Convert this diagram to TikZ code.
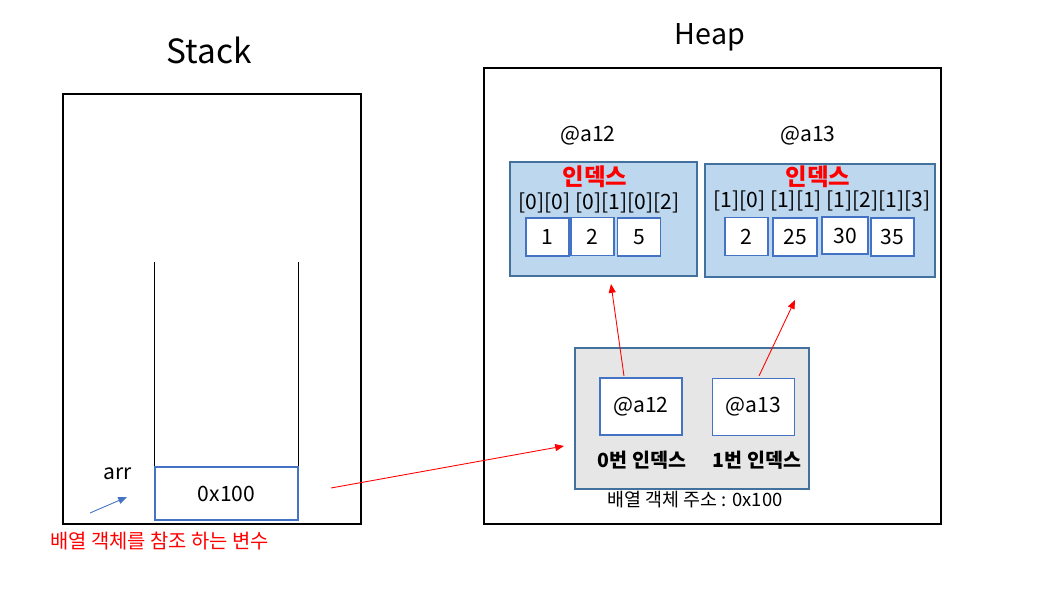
\documentclass[tikz,border=0pt]{standalone}
\usepackage{fontspec}
\setmainfont{Noto Sans CJK KR}
\usetikzlibrary{arrows.meta,positioning}
\definecolor{ptrred}{HTML}{FF0000}
\definecolor{idxblue}{HTML}{BDD7EE}
\definecolor{edgeblue}{HTML}{41719C}
\definecolor{cellblue}{HTML}{4472C4}
\definecolor{objgray}{HTML}{E7E6E6}
\tikzset{
  frame/.style={draw=black,line width=.7pt,inner sep=0pt},
  arraybox/.style={draw=edgeblue,fill=idxblue,line width=.7pt,inner sep=0pt},
  objbox/.style={draw=edgeblue,fill=objgray,line width=.7pt,inner sep=0pt},
  cell/.style={draw=cellblue,fill=white,line width=.6pt,inner sep=0pt,
    minimum width=43*0.02cm,minimum height=38*0.02cm,font=\fontsize{12}{14}\selectfont},
  ptrcell/.style={draw=cellblue,fill=white,line width=.6pt,inner sep=0pt,
    minimum width=82*0.02cm,minimum height=57*0.02cm,font=\fontsize{12}{14}\selectfont},
  label/.style={inner sep=0pt,font=\fontsize{12}{14}\selectfont},
  small/.style={inner sep=0pt,font=\fontsize{10.5}{12}\selectfont},
  idxtitle/.style={inner sep=0pt,text=ptrred,font=\bfseries\fontsize{13.3}{15}\selectfont},
  ref/.style={-{Triangle[length=5pt,width=4pt]},draw=ptrred,line width=.5pt},
  hint/.style={-{Triangle[length=5pt,width=4pt]},draw=cellblue,line width=.5pt}
}
\begin{document}
\begin{tikzpicture}[x=0.02cm,y=-0.02cm]
  \useasboundingbox (0,0) rectangle (1063,604);
  % stack side
  \node[inner sep=0pt,font=\fontsize{19}{23}\selectfont] (stacktitle) at (209,50) {Stack};
  \node[frame,minimum width=298*0.02cm,minimum height=430*0.02cm] (stack) at (212,309) {};
  \node[cell,minimum width=143*0.02cm,minimum height=53*0.02cm] (valcell) at (226.5,493.5) {0x100};
  \draw[line width=.7pt] (valcell.north west) -- ++(0,-204);
  \draw[line width=.7pt] (valcell.north east) -- ++(0,-204);
  \node[label] (arr) at (118,474) {arr};
  \coordinate (arrtail) at (90,513);
  \coordinate (arrtip) at (127,497);
  \draw[hint] (arrtail) -- (arrtip);
  \node[small,text=ptrred,anchor=west,font=\fontsize{11.3}{13}\selectfont] (varnote) at (50,541) {배열 객체를 참조 하는 변수};
  % heap side
  \node[inner sep=0pt,font=\fontsize{16.3}{19}\selectfont] (heaptitle) at (710,37) {Heap};
  \node[frame,minimum width=457*0.02cm,minimum height=456*0.02cm] (heap) at (712.5,296) {};
  \node[label] (addrA) at (588,136) {@a12};
  \node[label] (addrB) at (808,136) {@a13};
  \node[arraybox,minimum width=187*0.02cm,minimum height=114*0.02cm] (rowA) at (603.5,219) {};
  \node[arraybox,minimum width=230*0.02cm,minimum height=113*0.02cm] (rowB) at (820,220.5) {};
  \node[idxtitle] (idxA) at (595,177) {인덱스};
  \node[idxtitle] (idxB) at (818,177) {인덱스};
  \node[label] (subsA) at (599,203) {[0][0] [0][1][0][2]};
  \node[label] (subsB) at (822,201) {[1][0] [1][1] [1][2][1][3]};
  \node[cell] (a0) at (547.5,237) {1};
  \node[cell] (a1) at (592.5,236.5) {2};
  \node[cell] (a2) at (639,237) {5};
  \node[cell] (b0) at (746.5,236.5) {2};
  \node[cell,minimum width=44*0.02cm] (b1) at (795,237) {25};
  \node[cell,minimum width=46*0.02cm,minimum height=37*0.02cm] (b2) at (845,235.5) {30};
  \node[cell] (b3) at (892.5,237) {35};
  % array object
  \node[objbox,minimum width=234*0.02cm,minimum height=141*0.02cm] (obj) at (692,418.5) {};
  \node[ptrcell] (p0) at (641,406.5) {@a12};
  \node[ptrcell] (p1) at (753.5,407) {@a13};
  \node[small,font=\bfseries\fontsize{11.1}{13}\selectfont] (p0name) at (642,460) {0번 인덱스};
  \node[small,font=\bfseries\fontsize{11.1}{13}\selectfont] (p1name) at (757,460) {1번 인덱스};
  \node[small] (objaddr) at (695,500) {배열 객체 주소 : 0x100};
  % references
  \coordinate (p0out) at (624,376);
  \coordinate (rowAin) at (611,284);
  \coordinate (p1out) at (759,376);
  \coordinate (rowBin) at (795,300);
  \coordinate (valout) at (331,488);
  \coordinate (objin) at (564,446);
  \draw[ref] (p0out) -- (rowAin);
  \draw[ref] (p1out) -- (rowBin);
  \draw[ref] (valout) -- (objin);
\end{tikzpicture}
\end{document}
